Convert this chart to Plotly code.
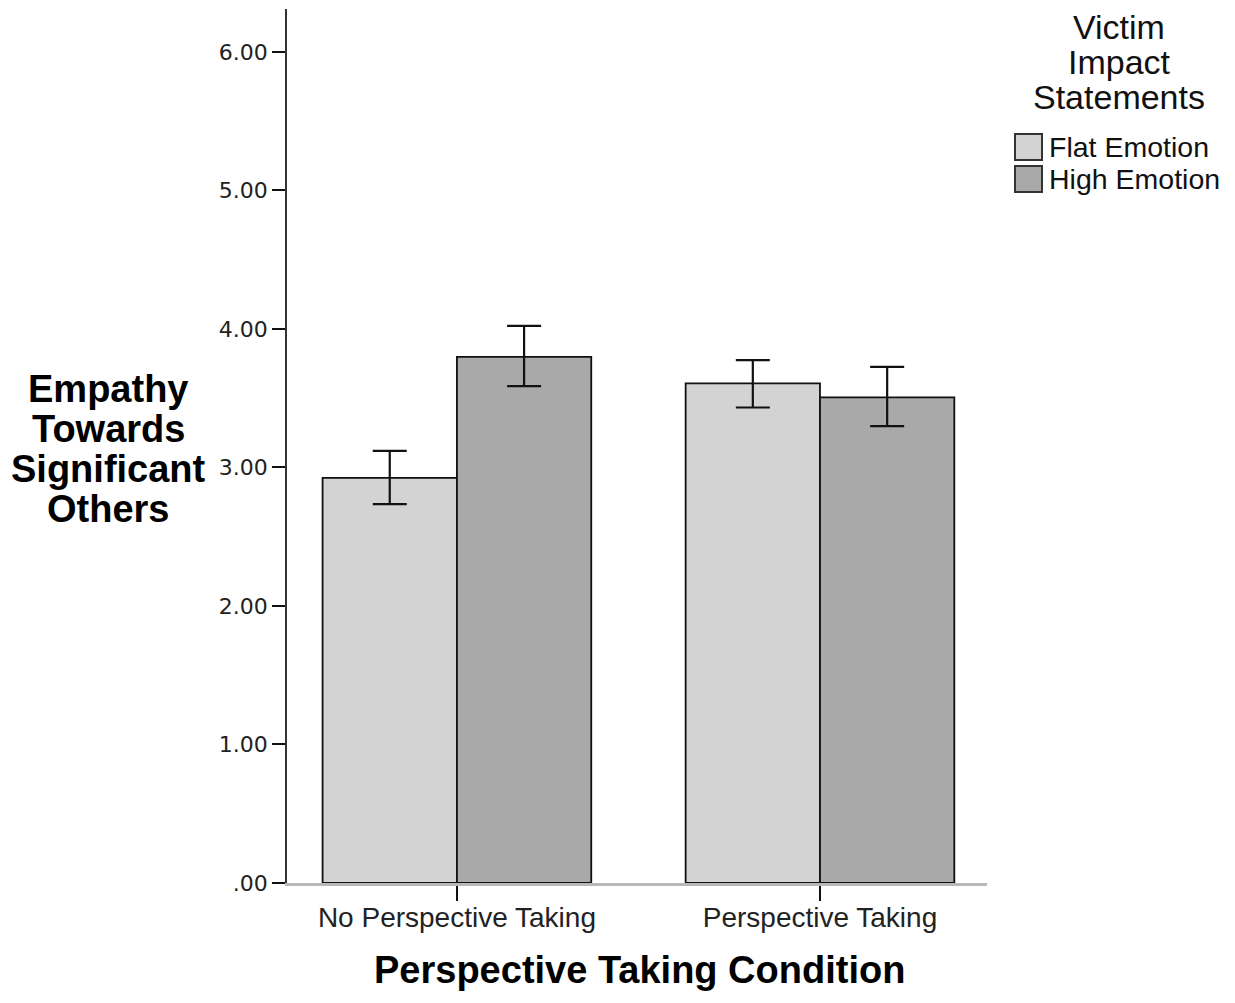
import plotly.graph_objects as go

# ---- data ----
categories = ["No Perspective Taking", "Perspective Taking"]
series_names = ["Flat Emotion", "High Emotion"]
flat_mean = [2.925, 3.607]
flat_upper = [3.120, 3.775]
flat_lower = [2.735, 3.433]
high_mean = [3.799, 3.506]
high_upper = [4.022, 3.726]
high_lower = [3.587, 3.298]
y_tickvals = [0, 1, 2, 3, 4, 5, 6]
y_ticktext = [".00", "1.00", "2.00", "3.00", "4.00", "5.00", "6.00"]
legend_title_lines = ["Victim", "Impact", "Statements"]
y_title_lines = ["Empathy", "Towards", "Significant", "Others"]
x_title = "Perspective Taking Condition"

colors = ["#d3d3d3", "#a9a9a9"]

OFF = 8  # page body margin
W, H = 1235 - OFF, 1003 - OFF
L, R, T, B = 287 - OFF, 987 - OFF, 9 - OFF, 883 - OFF
pw, ph = R - L, B - T


def px_x(px):
    return (px - OFF - L) / pw


def px_y(py):
    return (B - (py - OFF)) / ph


fig = go.Figure()
for name, mean, up, lo, col in [
    (series_names[0], flat_mean, flat_upper, flat_lower, colors[0]),
    (series_names[1], high_mean, high_upper, high_lower, colors[1]),
]:
    fig.add_trace(go.Bar(
        x=categories, y=mean, name=name,
        marker=dict(color=col, line=dict(color="#111111", width=1.8)),
        error_y=dict(type="data", symmetric=False,
                     array=[u - m for u, m in zip(up, mean)],
                     arrayminus=[m - l for m, l in zip(mean, lo)],
                     color="#111111", thickness=2.2, width=17),
        showlegend=False,
    ))

fig.update_layout(
    width=W, height=H,
    margin=dict(l=L, r=W - R, t=T, b=H - B),
    paper_bgcolor="white", plot_bgcolor="white",
    barmode="group", bargap=0.26, bargroupgap=0,
    font=dict(family="Liberation Sans, Arial, sans-serif", color="#111111"),
    xaxis=dict(
        type="category", range=[-0.468, 1.46],
        showline=True, linecolor="#b8b8b8", linewidth=3,
        ticks="outside", ticklen=15, tickwidth=2, tickcolor="#111111",
        ticklabelstandoff=-8,
        tickfont=dict(family="Liberation Sans, Arial, sans-serif", size=28, color="#222222"),
        showgrid=False, zeroline=False,
    ),
    yaxis=dict(
        range=[0, 6.31], tickvals=y_tickvals, ticktext=y_ticktext,
        showline=True, linecolor="#333333", linewidth=1.5,
        ticks="outside", ticklen=13, tickwidth=2, tickcolor="#111111",
        tickfont=dict(family="DejaVu Sans, sans-serif", size=22, color="#222222"),
        showgrid=False, zeroline=False,
    ),
)

annotations = []
# y-axis title lines
for i, line in enumerate(y_title_lines):
    annotations.append(dict(
        text=f"<b>{line}</b>", xref="paper", yref="paper",
        x=px_x(108), y=px_y(389 + i * 40), xanchor="center", yanchor="middle",
        showarrow=False, font=dict(size=38, family="Liberation Sans, Arial, sans-serif", color="#000000"),
    ))
# x-axis title
annotations.append(dict(
    text=f"<b>{x_title}</b>", xref="paper", yref="paper",
    x=px_x(639), y=px_y(970), xanchor="center", yanchor="middle",
    showarrow=False, font=dict(size=38, family="Liberation Sans, Arial, sans-serif", color="#000000"),
))
# legend title
for i, line in enumerate(legend_title_lines):
    annotations.append(dict(
        text=line, xref="paper", yref="paper",
        x=px_x(1119), y=px_y(27 + i * 35), xanchor="center", yanchor="middle",
        showarrow=False, font=dict(size=34, family="Liberation Sans, Arial, sans-serif", color="#111111"),
    ))
# legend items
shapes = []
for i, (name, col) in enumerate(zip(series_names, colors)):
    top = 134 + i * 32
    shapes.append(dict(
        type="rect", xref="paper", yref="paper",
        x0=px_x(1015), x1=px_x(1042), y0=px_y(top), y1=px_y(top + 26),
        fillcolor=col, line=dict(color="#333333", width=2),
    ))
    annotations.append(dict(
        text=name, xref="paper", yref="paper",
        x=px_x(1047), y=px_y(top + 13), xanchor="left", yanchor="middle",
        showarrow=False, font=dict(size=28.5, family="Liberation Sans, Arial, sans-serif", color="#111111"),
    ))

fig.update_layout(annotations=annotations, shapes=shapes)
fig.write_html("out.html")
